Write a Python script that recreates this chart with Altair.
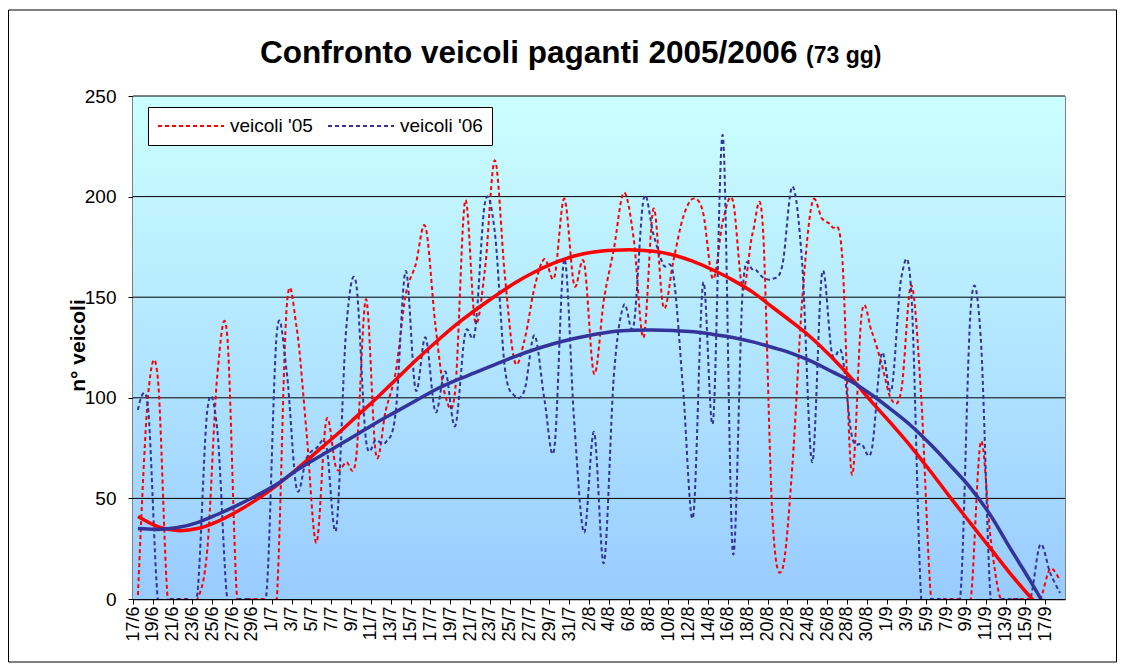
import altair as alt
import pandas as pd

# ---- categories: one per day, 17/6 .. 18/9 ----
days = pd.date_range("2005-06-17", "2005-09-18", freq="D")
tick_days = pd.date_range("2005-06-17", "2005-09-17", freq="2D")
trend_days = days[::2]

series_names = ["veicoli '05", "veicoli '06"]
series_colors = ["#FF0000", "#333399"]

veicoli_05 = [2, 100, 110, 0, 0, 0, 0, 25, 111, 131,
              0, 0, 0, 0, 0, 145, 135, 83, 28, 89,
              65, 68, 70, 149, 72, 94, 113, 151, 166, 185,
              136, 101, 104, 198, 138, 164, 218, 161, 118, 129,
              155, 169, 160, 199, 156, 167, 112, 149, 174, 202,
              179, 130, 194, 145, 168, 190, 199, 192, 159, 188,
              198, 154, 182, 187, 40, 15, 66, 149, 197, 189,
              185, 172, 62, 142, 133, 117, 99, 104, 156, 100,
              0, 0, 0, 0, 0, 78, 30, 0, 0, 0,
              0, 0, 15, 9]

veicoli_06 = [94, 96, 0, 0, 0, 0, 3, 94, 84, 0,
              0, 0, 0, 5, 132, 113, 55, 70, 75, 76,
              35, 134, 157, 79, 79, 78, 93, 163, 104, 130,
              93, 113, 86, 132, 133, 197, 182, 115, 101, 104,
              131, 99, 75, 169, 88, 33, 83, 18, 111, 146,
              136, 199, 181, 166, 161, 103, 41, 157, 88, 230,
              23, 154, 164, 160, 159, 166, 205, 166, 68, 162,
              122, 122, 81, 77, 74, 122, 104, 160, 152, 0,
              0, 0, 0, 5, 145, 130, 0, 0, 0, 0,
              0, 27, 13, 3]

# trend lines read every second day
tendenza_05 = [41, 36, 34, 35, 38.5, 43.5, 49.5, 56.5, 64.5, 73,
               81.5, 90.5, 99.5, 109, 118.5, 127.5, 136, 143.5, 150.5, 157,
               162.5, 167, 170.5, 172.5, 173.3, 173.5, 172.8, 171, 167.8, 163.5,
               158.5, 152.5, 145, 137.5, 129.5, 120, 109.5, 98, 87, 75.5,
               63, 50, 37.5, 25, 12.5, 1, -10]
tendenza_06 = [35, 34.6, 35.5, 38, 42, 46.5, 51.5, 57, 64, 70,
               75.7, 81.5, 87.5, 93, 98.5, 104, 108.5, 112.5, 116.5, 120.5,
               124, 127, 129.5, 131.5, 133, 133.6, 133.7, 133.4, 132.8, 131.5,
               130, 127.8, 125, 122, 118, 113, 108, 101.5, 94, 86,
               76.5, 66, 55, 41.5, 25, 9, -8]

y_ticks = [0, 50, 100, 150, 200, 250]
grid_values = [50, 100, 150, 200, 250]
main_title = "Confronto veicoli paganti 2005/2006"
title_suffix = "(73 gg)"
y_title = "n° veicoli"

W, H = 932, 503
FONT = "Liberation Sans"

def stamp(d):
    return d.strftime("%Y-%m-%dT12:00:00")

df = pd.DataFrame({
    "giorno": [stamp(d) for d in days] * 2,
    "serie": [series_names[0]] * len(days) + [series_names[1]] * len(days),
    "veicoli": veicoli_05 + veicoli_06,
})
df_t05 = pd.DataFrame({"giorno": [stamp(d) for d in trend_days], "veicoli": tendenza_05})
df_t06 = pd.DataFrame({"giorno": [stamp(d) for d in trend_days], "veicoli": tendenza_06})

x_scale = alt.Scale(domain=[alt.DateTime(year=2005, month=6, date=17),
                            alt.DateTime(year=2005, month=9, date=19)])
y_scale = alt.Scale(domain=[0, 250], nice=False)

x_axis = alt.Axis(values=[alt.DateTime(year=d.year, month=d.month, date=d.day) for d in tick_days],
                  format="%-d/%-m", labelAngle=-90, labelFontSize=18, labelFont=FONT,
                  labelColor="black", tickSize=5, tickColor="black", labelPadding=2,
                  grid=False, domainColor="black", domainWidth=1.5,
                  labelFlush=False, labelOverlap=False, labelBound=False, title=None)
y_axis = alt.Axis(values=y_ticks, labelFontSize=19, labelFont=FONT, labelColor="black",
                  tickSize=5, tickColor="black", labelPadding=12, grid=False,
                  domainColor="black", domainWidth=2,
                  title=y_title, titleFont=FONT, titleFontSize=21, titleFontWeight="bold",
                  titleColor="black", titleX=-55, titleY=249, titleAlign="center",
                  titleBaseline="middle")

gradient = alt.LinearGradient(
    gradient="linear",
    stops=[alt.GradientStop(color="#CCFFFF", offset=0),
           alt.GradientStop(color="#99CCFF", offset=1)],
    x1=0, x2=0, y1=0, y2=1)

bg = alt.Chart(alt.Data(values=[{}])).mark_rect(fill=gradient).encode(
    x=alt.value(0), x2=alt.value(W), y=alt.value(0), y2=alt.value(H))

grid = alt.Chart(pd.DataFrame({"v": grid_values})).mark_rule(
    color="black", strokeWidth=1).encode(
    y=alt.Y("v:Q", scale=y_scale, axis=y_axis))

lines = alt.Chart(df).mark_line(
    interpolate="cardinal", strokeDash=[4, 3], strokeWidth=2, clip=True).encode(
    x=alt.X("giorno:T", scale=x_scale, axis=x_axis),
    y=alt.Y("veicoli:Q", scale=y_scale, axis=y_axis),
    color=alt.Color("serie:N",
                    scale=alt.Scale(domain=series_names, range=series_colors),
                    legend=alt.Legend(title=None, orient="none", legendX=15, legendY=11,
                                      direction="horizontal", fillColor="white",
                                      strokeColor="black", padding=9, clipHeight=20,
                                      symbolType="stroke", symbolSize=4356,
                                      symbolStrokeWidth=2, symbolDash=[4, 3],
                                      labelFont=FONT, labelFontSize=19, labelColor="black",
                                      labelOffset=5, columnPadding=14)),
    order=alt.Order("giorno:T"))

t05 = alt.Chart(df_t05).mark_line(
    interpolate="cardinal", strokeWidth=3.5, clip=True, color=series_colors[0]).encode(
    x=alt.X("giorno:T", scale=x_scale, axis=x_axis),
    y=alt.Y("veicoli:Q", scale=y_scale, axis=y_axis))
t06 = alt.Chart(df_t06).mark_line(
    interpolate="cardinal", strokeWidth=3.5, clip=True, color=series_colors[1]).encode(
    x=alt.X("giorno:T", scale=x_scale, axis=x_axis),
    y=alt.Y("veicoli:Q", scale=y_scale, axis=y_axis))

title_main = alt.Chart(alt.Data(values=[{}])).mark_text(
    align="left", baseline="alphabetic", font=FONT, fontSize=31.5, fontWeight="bold",
    color="black").encode(x=alt.value(127), y=alt.value(-33), text=alt.value(main_title))

suffix = alt.Chart(alt.Data(values=[{}])).mark_text(
    align="left", baseline="alphabetic", font=FONT, fontSize=23, fontWeight="bold",
    color="black").encode(x=alt.value(673), y=alt.value(-33), text=alt.value(title_suffix))

border = alt.Chart(alt.Data(values=[{}])).mark_rect(
    fillOpacity=0, stroke="black", strokeWidth=1).encode(
    x=alt.value(-124.5), x2=alt.value(983.5), y=alt.value(-86), y2=alt.value(566))

chart = alt.layer(bg, grid, lines, t05, t06, title_main, suffix, border).properties(
    width=W, height=H,
    autosize=alt.AutoSizeParams(type="none"),
    padding={"left": 125, "top": 88, "right": 52, "bottom": 64},
).configure_view(stroke="#808080", strokeWidth=1)

chart.save("out.html", embed_options={"renderer": "svg", "actions": False})
